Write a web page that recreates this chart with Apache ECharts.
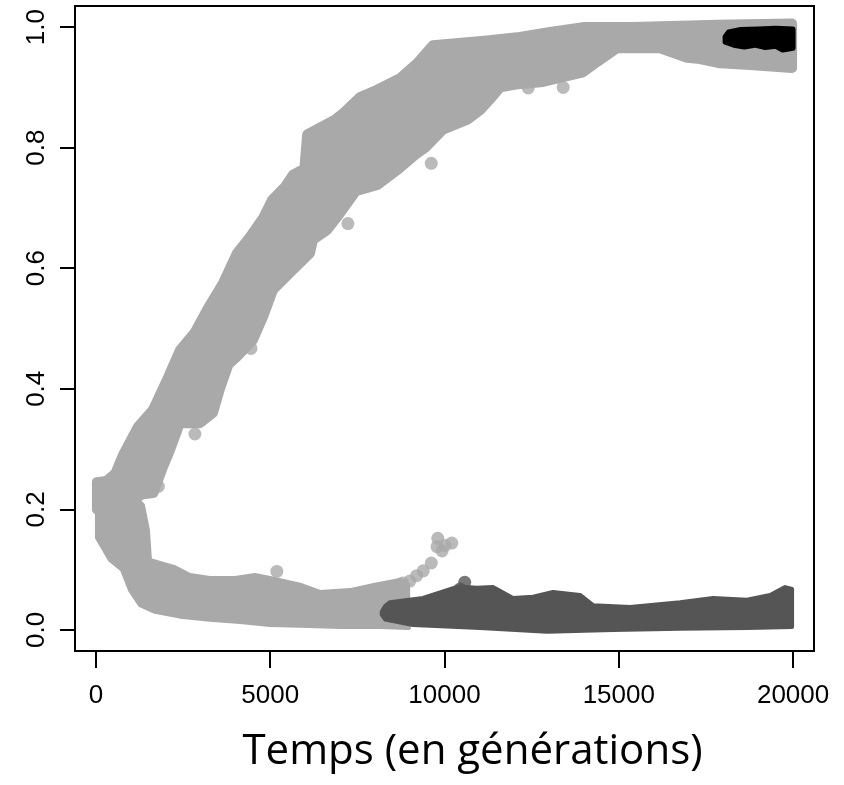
<!DOCTYPE html>
<html><head><meta charset="utf-8">
<script src="https://cdn.jsdelivr.net/npm/echarts@6/dist/echarts.min.js"></script>
<style>html,body{margin:0;padding:0;background:#fff}#c{width:844px;height:785px}</style>
</head><body><div id="c"></div>
<script>
// Tick values
const xTicks = [0, 5000, 10000, 15000, 20000];
const yTicks = [0.0, 0.2, 0.4, 0.6, 0.8, 1.0];

// Upper light-grey cloud (outer envelope)
const bandA_upper = [[29,0.245],[300,0.247],[560,0.26],[775,0.29],[1205,0.337],[1636,0.365],[2037,0.415],[2410,0.464],[2840,0.494],[3214,0.534],[3644,0.575],[4046,0.625],[4419,0.652],[4792,0.683],[5050,0.713],[5423,0.735],[5653,0.755],[5980,0.765],[6060,0.822],[6842,0.846],[7088,0.857],[7575,0.884],[8063,0.896],[8723,0.915],[9211,0.940],[9670,0.970],[10646,0.975],[11220,0.978],[12080,0.983],[13027,0.992],[13974,1.0],[15409,1.0],[17819,1.004],[19971,1.006]];
const bandA_lower = [[29,0.2],[1000,0.215],[1350,0.225],[1650,0.227],[1922,0.270],[2123,0.298],[2410,0.343],[2984,0.343],[3357,0.360],[3558,0.40],[3800,0.44],[4046,0.453],[4505,0.481],[4792,0.519],[5079,0.564],[5653,0.597],[6141,0.625],[6227,0.647],[6629,0.663],[7002,0.691],[7459,0.728],[8077,0.738],[8695,0.765],[9158,0.788],[9450,0.80],[9957,0.830],[10646,0.846],[11019,0.862],[11306,0.88],[11600,0.90],[12080,0.905],[12826,0.909],[13974,0.925],[14376,0.942],[14950,0.965],[16184,0.965],[16958,0.949],[17332,0.947],[17905,0.940],[18766,0.937],[19971,0.932]];
// Lower light-grey cloud
const bandB_upper = [[29,0.245],[832,0.240],[1349,0.207],[1492,0.166],[1550,0.116],[1836,0.111],[2267,0.104],[2697,0.091],[3271,0.086],[3989,0.086],[4562,0.091],[4993,0.086],[5854,0.075],[6428,0.063],[7288,0.066],[8006,0.075],[8723,0.083],[8953,0.075]];
const bandB_lower = [[29,0.153],[402,0.116],[746,0.100],[976,0.066],[1263,0.041],[1693,0.030],[2410,0.022],[3271,0.017],[4132,0.013],[4993,0.008],[5854,0.007],[7002,0.005],[8150,0.005],[8980,0.003]];
// Dark-grey cloud
const bandC_upper = [[8200,0.030],[8300,0.040],[8436,0.046],[9383,0.053],[10072,0.066],[10400,0.072],[10933,0.070],[11392,0.071],[11966,0.053],[12540,0.055],[13113,0.063],[13888,0.058],[14261,0.041],[15323,0.038],[16758,0.046],[17705,0.053],[18680,0.050],[19340,0.058],[19770,0.071],[19971,0.068]];
const bandC_lower = [[8200,0.025],[8300,0.017],[9096,0.008],[11019,0.003],[12941,-0.003],[14835,0.0],[16758,0.002],[18680,0.003],[19971,0.005]];
// Black cloud
const bandD_upper = [[18050,0.984],[18150,0.992],[18500,0.996],[19000,0.997],[19500,0.998],[20000,0.997]];
const bandD_lower = [[18050,0.975],[18300,0.970],[18600,0.967],[18900,0.970],[19200,0.966],[19500,0.968],[19700,0.962],[20000,0.965]];

// Isolated points
const lightPoints = [[9620,0.774],[7228,0.674],[12402,0.899],[13405,0.900],[4448,0.467],[2840,0.325],[1791,0.238],[5190,0.097],[8800,0.078],[9004,0.081],[9200,0.090],[9390,0.098],[9622,0.111],[9807,0.152],[10209,0.144],[9930,0.131],[9785,0.138],[10015,0.140]];
const darkPoints = [[10580,0.079],[10450,0.068]];

const LIGHT = '#A9A9A9', DARK = '#555555', BLACK = '#000000';

function band(upper, lower, color, z, lw) {
  return {
    type: 'custom', coordinateSystem: 'cartesian2d', z: z, silent: true,
    data: [upper[0]],
    renderItem: function (params, api) {
      const pts = upper.map(p => api.coord(p)).concat(lower.slice().reverse().map(p => api.coord(p)));
      return { type: 'polygon', shape: { points: pts },
        style: { fill: color, stroke: color, lineWidth: lw, lineJoin: 'round' } };
    }
  };
}

const chart = echarts.init(document.getElementById('c'), null, { renderer: 'canvas' });
chart.setOption({
  animation: false,
  backgroundColor: '#fff',
  grid: { left: 75, right: 30, top: 6, bottom: 134, show: true, borderColor: '#000', borderWidth: 2, outerBoundsMode: 'none' },
  xAxis: {
    type: 'value', min: -600, max: 20600,
    axisLine: { show: true, onZero: false, lineStyle: { color: '#000', width: 2 } },
    axisTick: { show: true, length: 17, lineStyle: { color: '#000', width: 2 }, customValues: xTicks },
    axisLabel: { customValues: xTicks, formatter: v => String(v), color: '#000', fontFamily: 'Liberation Sans', fontSize: 26, margin: 32 },
    splitLine: { show: false },
    name: 'Temps (en générations)', nameLocation: 'middle', nameGap: 80,
    nameTextStyle: { fontFamily: 'Open Sans', fontSize: 42, color: '#000', padding: [0, 0, 0, 56] }
  },
  yAxis: {
    type: 'value', min: -0.035, max: 1.035,
    axisLine: { show: true, onZero: false, lineStyle: { color: '#000', width: 2 } },
    axisTick: { show: true, length: 15, lineStyle: { color: '#000', width: 2 }, customValues: yTicks },
    axisLabel: { customValues: yTicks, formatter: v => v.toFixed(1), rotate: 90, color: '#000', fontFamily: 'Liberation Sans', fontSize: 26, margin: 25 },
    splitLine: { show: false }
  },
  series: [
    band(bandA_upper, bandA_lower, LIGHT, 2, 10),
    band(bandB_upper, bandB_lower, LIGHT, 2, 4),
    { type: 'scatter', data: lightPoints, symbolSize: 13, itemStyle: { color: LIGHT }, z: 2, silent: true },
    band(bandC_upper, bandC_lower, DARK, 3, 4),
    { type: 'scatter', data: darkPoints, symbolSize: 13, itemStyle: { color: DARK }, z: 3, silent: true },
    band(bandD_upper, bandD_lower, BLACK, 4, 5)
  ]
});
</script></body></html>
